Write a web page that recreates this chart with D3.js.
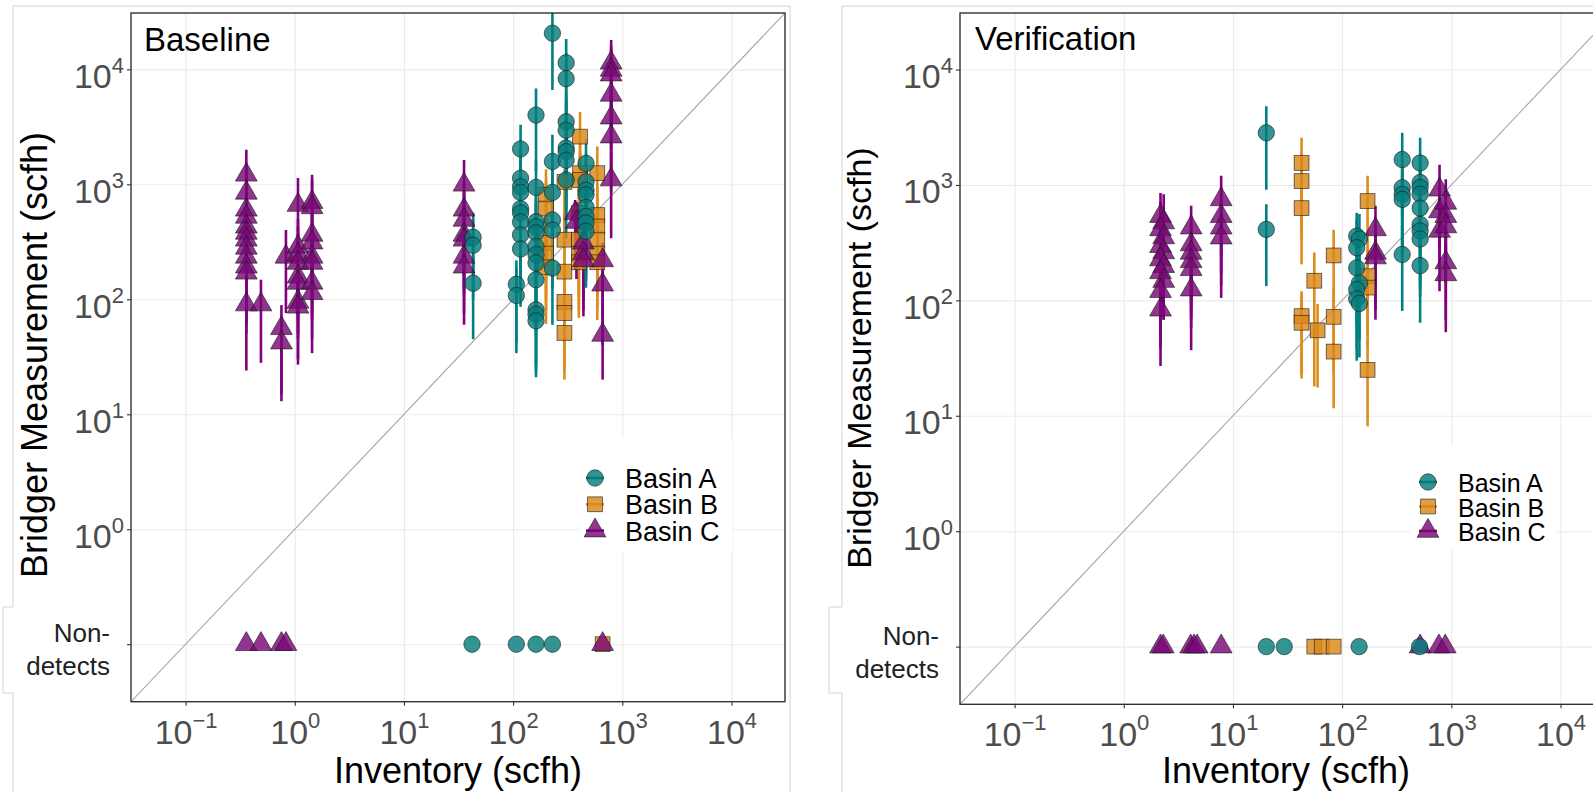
<!DOCTYPE html>
<meta charset="utf-8">
<script src="https://d3js.org/d3.v7.min.js"></script>
<style>
  body { margin: 0; background: #fff; }
  text { font-family: "Liberation Sans", Arial, Helvetica, sans-serif; }
</style>
<body>
<div id="chart"></div>
<script>
  // ---- data: [inventory, measurement, lower, upper] in scfh ----
  const baselineA = [
    [43, 346, 120, 565], [43, 295, 100, 500], [43, 138, 45, 240],
    [107, 135, 42, 218], [107, 108, 34, 190],
    [117, 2030, 650, 3300], [117, 1130, 360, 2000], [117, 950, 300, 1700], [117, 850, 270, 1500],
    [117, 614, 200, 1100], [117, 564, 180, 1000], [117, 470, 150, 850], [117, 363, 115, 650], [117, 274, 86, 500],
    [162, 4000, 1300, 6800], [162, 940, 300, 1600], [162, 473, 150, 850], [162, 427, 135, 750],
    [162, 378, 120, 670], [162, 288, 90, 510], [162, 244, 78, 430], [162, 207, 65, 370],
    [162, 148, 47, 260], [162, 81, 26, 145], [162, 74, 23, 130], [162, 65, 21, 115],
    [229, 20600, 6600, 40000], [229, 1580, 500, 2700], [229, 850, 270, 1500], [229, 490, 155, 870],
    [229, 400, 125, 700], [229, 187, 60, 330],
    [306, 11400, 3600, 18400], [306, 8300, 2600, 14000], [306, 3500, 1100, 6000], [306, 2950, 950, 5200],
    [306, 2070, 650, 3600], [306, 1920, 600, 3400], [306, 1620, 500, 2800], [306, 1090, 340, 1900],
    [465, 1520, 480, 2460], [465, 1050, 330, 1850], [465, 890, 280, 1550], [465, 810, 250, 1400],
    [465, 630, 200, 1100], [465, 525, 165, 920], [465, 460, 145, 800], [465, 390, 126, 690]
  ];
  const baselineB = [
    [200, 810, 260, 1350], [200, 615, 200, 1100], [200, 310, 100, 550], [200, 250, 80, 440], [200, 190, 61, 340],
    [295, 1050, 330, 1350], [295, 330, 105, 580], [295, 174, 55, 310], [295, 95, 30, 170], [295, 76, 24, 135], [295, 51, 20, 90],
    [410, 2600, 820, 4250], [410, 1250, 400, 2200], [410, 1090, 340, 1900],
    [400, 560, 180, 980], [400, 330, 105, 580], [400, 250, 80, 440], [400, 210, 69, 370],
    [590, 1250, 400, 2130], [590, 540, 170, 950], [590, 430, 135, 760], [590, 330, 105, 580],
    [590, 250, 80, 440], [590, 210, 66, 370]
  ];
  const baselineC = [
    [0.36, 1210, 400, 2000], [0.36, 843, 300, 1500], [0.36, 600, 200, 1100], [0.36, 521, 170, 900],
    [0.36, 427, 140, 800], [0.36, 378, 120, 700], [0.36, 329, 100, 600], [0.36, 280, 90, 500],
    [0.36, 234, 70, 420], [0.36, 192, 60, 350], [0.36, 170, 50, 300], [0.36, 90, 24, 160],
    [0.49, 90, 28, 148],
    [0.755, 56, 15, 89], [0.755, 42, 13, 70],
    [0.83, 234, 76, 400],
    [1.07, 660, 200, 1135], [1.07, 286, 90, 500], [1.07, 244, 80, 430], [1.07, 207, 65, 370],
    [1.07, 157, 50, 280], [1.07, 139, 45, 250], [1.07, 95, 30, 170], [1.07, 86, 27, 150],
    [1.44, 700, 220, 1210], [1.44, 630, 200, 1100], [1.44, 363, 120, 650], [1.44, 311, 100, 560],
    [1.44, 234, 75, 420], [1.44, 207, 65, 370], [1.44, 139, 45, 250], [1.44, 113, 34, 200],
    [35.5, 990, 330, 1630], [35.5, 600, 200, 1000], [35.5, 490, 160, 850], [35.5, 363, 120, 650],
    [35.5, 329, 110, 580], [35.5, 234, 75, 420], [35.5, 192, 60, 340],
    [370, 560, 180, 730], [380, 470, 150, 700], [440, 310, 100, 550], [440, 250, 80, 450], [440, 218, 71, 400],
    [660, 218, 70, 310], [660, 134, 40, 250], [660, 49, 20, 90],
    [790, 11400, 3800, 18000], [790, 9900, 3300, 16000], [790, 9000, 3000, 15000], [790, 6000, 2000, 10000],
    [790, 3800, 1200, 6500], [790, 2600, 850, 4500], [790, 1100, 340, 1900]
  ];
  const baselineA_nd = [42, 107, 162, 229];
  const baselineB_nd = [660];
  const baselineC_nd = [0.36, 0.49, 0.755, 0.83, 660];

  const verificationA = [
    [20.2, 2830, 910, 4800], [20.2, 412, 133, 680],
    [136, 360, 115, 574], [144, 340, 108, 560], [136, 286, 90, 500], [136, 191, 60, 340],
    [144, 141, 45, 250], [136, 124, 38, 220], [136, 103, 30, 180], [144, 94, 32, 165],
    [355, 1660, 530, 2830], [355, 946, 300, 1650], [355, 830, 260, 1450], [355, 750, 240, 1300], [355, 250, 81, 440],
    [518, 1550, 490, 2560], [518, 1050, 330, 1800], [518, 950, 300, 1650], [518, 830, 260, 1450],
    [518, 630, 200, 1100], [518, 455, 145, 800], [518, 400, 125, 700], [518, 340, 108, 600], [518, 200, 64, 350]
  ];
  const verificationB = [
    [42.5, 1550, 490, 2570], [42.5, 1080, 340, 1900], [42.5, 630, 205, 1100],
    [42.5, 73, 23, 120], [42.5, 64, 21, 110],
    [55.6, 148, 18, 260],
    [59.6, 55, 17.6, 93],
    [83.6, 245, 78, 410], [83.6, 72, 23, 125], [83.6, 36, 11.6, 65],
    [171, 725, 230, 1200], [171, 162, 50, 280], [171, 129, 40, 230], [171, 25, 8.1, 45]
  ];
  const verificationC = [
    [2.17, 537, 170, 850], [2.32, 473, 150, 830], [2.17, 412, 130, 720], [2.32, 351, 110, 620],
    [2.17, 295, 95, 520], [2.32, 260, 82, 460], [2.17, 226, 72, 400], [2.32, 198, 68, 350],
    [2.17, 175, 55, 310], [2.32, 147, 68, 260], [2.17, 120, 38, 210], [2.17, 83, 27, 150],
    [4.14, 427, 135, 660], [4.14, 305, 95, 540], [4.14, 258, 82, 450], [4.14, 218, 70, 380],
    [4.14, 186, 58, 330], [4.14, 124, 37, 220],
    [7.8, 750, 240, 1200], [7.8, 537, 170, 950], [7.8, 427, 135, 750], [7.8, 350, 105, 620],
    [202, 412, 130, 660], [202, 258, 82, 450], [202, 235, 68, 410],
    [780, 910, 290, 1500], [780, 590, 190, 1000], [780, 400, 120, 700],
    [890, 700, 220, 1120], [890, 537, 170, 930], [890, 437, 140, 770], [890, 213, 68, 370], [890, 168, 53, 300]
  ];
  const verificationA_nd = [20.2, 29.5, 143, 512];
  const verificationB_nd = [55.6, 65, 83.6];
  const verificationC_nd = [2.17, 2.3, 4.1, 4.4, 4.7, 7.8, 518, 770, 880];

  const basins = ["Basin A", "Basin B", "Basin C"];
  const tickValues = [0.1, 1, 10, 100, 1000, 10000];
  const tickExponents = ["\u22121", "0", "1", "2", "3", "4"];
  const nonDetectLevel = 0.1;
  const nonDetectLabel = ["Non-", "detects"];
  const axisLimits = [Math.pow(10, -1.5), Math.pow(10, 4.49)];

  // ---- styles ----
  const styles = {
    A: { line: "#008080", fill: "#067d7d", shape: "circle" },
    B: { line: "#DE8C1C", fill: "#DA8818", shape: "square" },
    C: { line: "#800080", fill: "#7a0878", shape: "triangle" }
  };
  const drawOrder = ["B", "C", "A"];

  const panels = [
    { title: "Baseline", x0: 131, x1: 785, y0: 13, y1: 701.7,
      data: { A: baselineA, B: baselineB, C: baselineC },
      nd: { A: baselineA_nd, B: baselineB_nd, C: baselineC_nd },
      titleX: 144, titleY: 51,
      yLab: { x: 47, y: 355, size: 36 }, xLab: { x: 458, y: 783, size: 36 },
      legend: { x: 595, y: 478, dy: 26.3, tx: 625, size: 27, box: [579, 438, 732, 552] },
      frame: "M13,792V693H3V607H13V6H790V792" },
    { title: "Verification", x0: 960, x1: 1614, y0: 13, y1: 704.3,
      data: { A: verificationA, B: verificationB, C: verificationC },
      nd: { A: verificationA_nd, B: verificationB_nd, C: verificationC_nd },
      titleX: 975, titleY: 50,
      yLab: { x: 871, y: 358, size: 34 }, xLab: { x: 1286, y: 783, size: 36 },
      legend: { x: 1428, y: 482, dy: 24.5, tx: 1458, size: 25, box: [1410, 445, 1557, 550] },
      frame: "M842,792V693H829V607H842V6H1593" }
  ];

  const W = 1593, H = 792;
  const svg = d3.select("#chart").append("svg")
    .attr("width", W).attr("height", H);

  function symbol(sel, shape) {
    if (shape === "circle") {
      sel.append("circle").attr("r", 8.2);
    } else if (shape === "square") {
      sel.append("rect").attr("x", -7.4).attr("y", -7.4).attr("width", 14.8).attr("height", 14.8);
    } else {
      sel.append("path").attr("d", "M0,-12.6L10.9,6.3L-10.9,6.3Z");
    }
  }

  panels.forEach(function(p, pi) {
    var x = d3.scaleLog().domain(axisLimits).range([p.x0, p.x1]);
    var y = d3.scaleLog().domain(axisLimits).range([p.y1, p.y0]);

    // outer light frame
    svg.append("path").attr("d", p.frame)
      .attr("fill", "none").attr("stroke", "#d4d4d4").attr("stroke-width", 1);

    var clipId = "clip" + pi;
    svg.append("clipPath").attr("id", clipId)
      .append("rect").attr("x", p.x0).attr("y", p.y0)
      .attr("width", p.x1 - p.x0).attr("height", p.y1 - p.y0);

    // grid
    var grid = svg.append("g").attr("clip-path", "url(#" + clipId + ")");
    grid.append("g")
      .attr("transform", "translate(0," + p.y1 + ")")
      .call(d3.axisBottom(x).tickValues(tickValues).tickSize(-(p.y1 - p.y0)).tickFormat(""))
      .call(function(g) { g.select(".domain").remove(); })
      .selectAll(".tick line").attr("stroke", "#ebebeb").attr("stroke-width", 1.1);
    grid.append("g")
      .attr("transform", "translate(" + p.x0 + ",0)")
      .call(d3.axisLeft(y).tickValues(tickValues).tickSize(-(p.x1 - p.x0)).tickFormat(""))
      .call(function(g) { g.select(".domain").remove(); })
      .selectAll(".tick line").attr("stroke", "#ebebeb").attr("stroke-width", 1.1);

    var plot = svg.append("g").attr("clip-path", "url(#" + clipId + ")");

    // 1:1 line
    plot.append("line")
      .attr("x1", x(axisLimits[0])).attr("y1", y(axisLimits[0]))
      .attr("x2", x(axisLimits[1])).attr("y2", y(axisLimits[1]))
      .attr("stroke", "#a6a6a6").attr("stroke-width", 1.1);

    // error bars
    drawOrder.forEach(function(k) {
      plot.append("g").selectAll("line")
        .data(p.data[k]).enter().append("line")
          .attr("x1", function(d) { return x(d[0]); })
          .attr("x2", function(d) { return x(d[0]); })
          .attr("y1", function(d) { return y(d[2]); })
          .attr("y2", function(d) { return y(d[3]); })
          .attr("stroke", styles[k].line)
          .attr("stroke-width", 2.6);
    });

    // points
    drawOrder.forEach(function(k) {
      var pts = p.data[k].map(function(d) { return [d[0], d[1]]; })
        .concat(p.nd[k].map(function(v) { return [v, nonDetectLevel]; }));
      plot.append("g").selectAll("g")
        .data(pts).enter().append("g")
          .attr("transform", function(d) { return "translate(" + x(d[0]) + "," + y(d[1]) + ")"; })
          .attr("fill", styles[k].fill)
          .attr("fill-opacity", 0.82)
          .attr("stroke", "#1a1a1a")
          .attr("stroke-opacity", 0.75)
          .attr("stroke-width", 0.8)
          .each(function() { symbol(d3.select(this), styles[k].shape); });
    });

    // panel border
    svg.append("rect")
      .attr("x", p.x0).attr("y", p.y0)
      .attr("width", p.x1 - p.x0).attr("height", p.y1 - p.y0)
      .attr("fill", "none").attr("stroke", "#333").attr("stroke-width", 1.4);

    // x axis
    var gx = svg.append("g")
      .attr("transform", "translate(0," + p.y1 + ")")
      .call(d3.axisBottom(x).tickValues(tickValues).tickSize(4).tickFormat(""));
    gx.select(".domain").remove();
    gx.selectAll(".tick line").attr("stroke", "#333").attr("stroke-width", 1.1);
    gx.selectAll(".tick text").each(function(d, i) {
      var t = d3.select(this).text(null)
        .attr("y", 42).attr("dy", null)
        .attr("fill", "#4d4d4d").style("font-size", "34px");
      t.append("tspan").text("10");
      t.append("tspan").attr("dy", -16).style("font-size", "22px").text(tickExponents[i]);
    });

    // y axis
    var gy = svg.append("g")
      .attr("transform", "translate(" + p.x0 + ",0)")
      .call(d3.axisLeft(y).tickValues(tickValues).tickSize(4).tickFormat(""));
    gy.select(".domain").remove();
    gy.selectAll(".tick line").attr("stroke", "#333").attr("stroke-width", 1.1);
    gy.selectAll(".tick text").each(function(d, i) {
      var t = d3.select(this).text(null).attr("dy", null);
      if (d === nonDetectLevel) {
        t.attr("x", -21).attr("y", -2.5).attr("fill", "#222").style("font-size", "26px");
        t.append("tspan").attr("x", -21).text(nonDetectLabel[0]);
        t.append("tspan").attr("x", -21).attr("dy", 33).text(nonDetectLabel[1]);
      } else {
        t.attr("x", -7).attr("y", 18).attr("fill", "#4d4d4d").style("font-size", "34px");
        t.append("tspan").text("10");
        t.append("tspan").attr("dy", -15).style("font-size", "22px").text(tickExponents[i]);
      }
    });

    // titles
    svg.append("text").attr("x", p.titleX).attr("y", p.titleY)
      .style("font-size", "33px").attr("fill", "#000").text(p.title);
    svg.append("text")
      .attr("transform", "translate(" + p.yLab.x + "," + p.yLab.y + ") rotate(-90)")
      .attr("text-anchor", "middle").style("font-size", p.yLab.size + "px")
      .text("Bridger Measurement (scfh)");
    svg.append("text")
      .attr("x", p.xLab.x).attr("y", p.xLab.y)
      .attr("text-anchor", "middle").style("font-size", p.xLab.size + "px")
      .text("Inventory (scfh)");

    // legend
    var lg = svg.append("g");
    lg.append("rect")
      .attr("x", p.legend.box[0]).attr("y", p.legend.box[1])
      .attr("width", p.legend.box[2] - p.legend.box[0])
      .attr("height", p.legend.box[3] - p.legend.box[1])
      .attr("fill", "#fff");
    ["A", "B", "C"].forEach(function(k, i) {
      var cy = p.legend.y + i * p.legend.dy;
      var key = lg.append("g").attr("transform", "translate(" + p.legend.x + "," + cy + ")");
      key.append("line").attr("x1", -9).attr("x2", 9)
        .attr("stroke", styles[k].line).attr("stroke-width", 2.6);
      var s = key.append("g")
        .attr("fill", styles[k].fill).attr("fill-opacity", 0.82)
        .attr("stroke", "#1a1a1a").attr("stroke-opacity", 0.75).attr("stroke-width", 0.8);
      symbol(s, styles[k].shape);
      lg.append("text").attr("x", p.legend.tx).attr("y", cy + 10)
        .style("font-size", p.legend.size + "px").attr("fill", "#000")
        .text(basins[i]);
    });
  });
</script>
</body>
